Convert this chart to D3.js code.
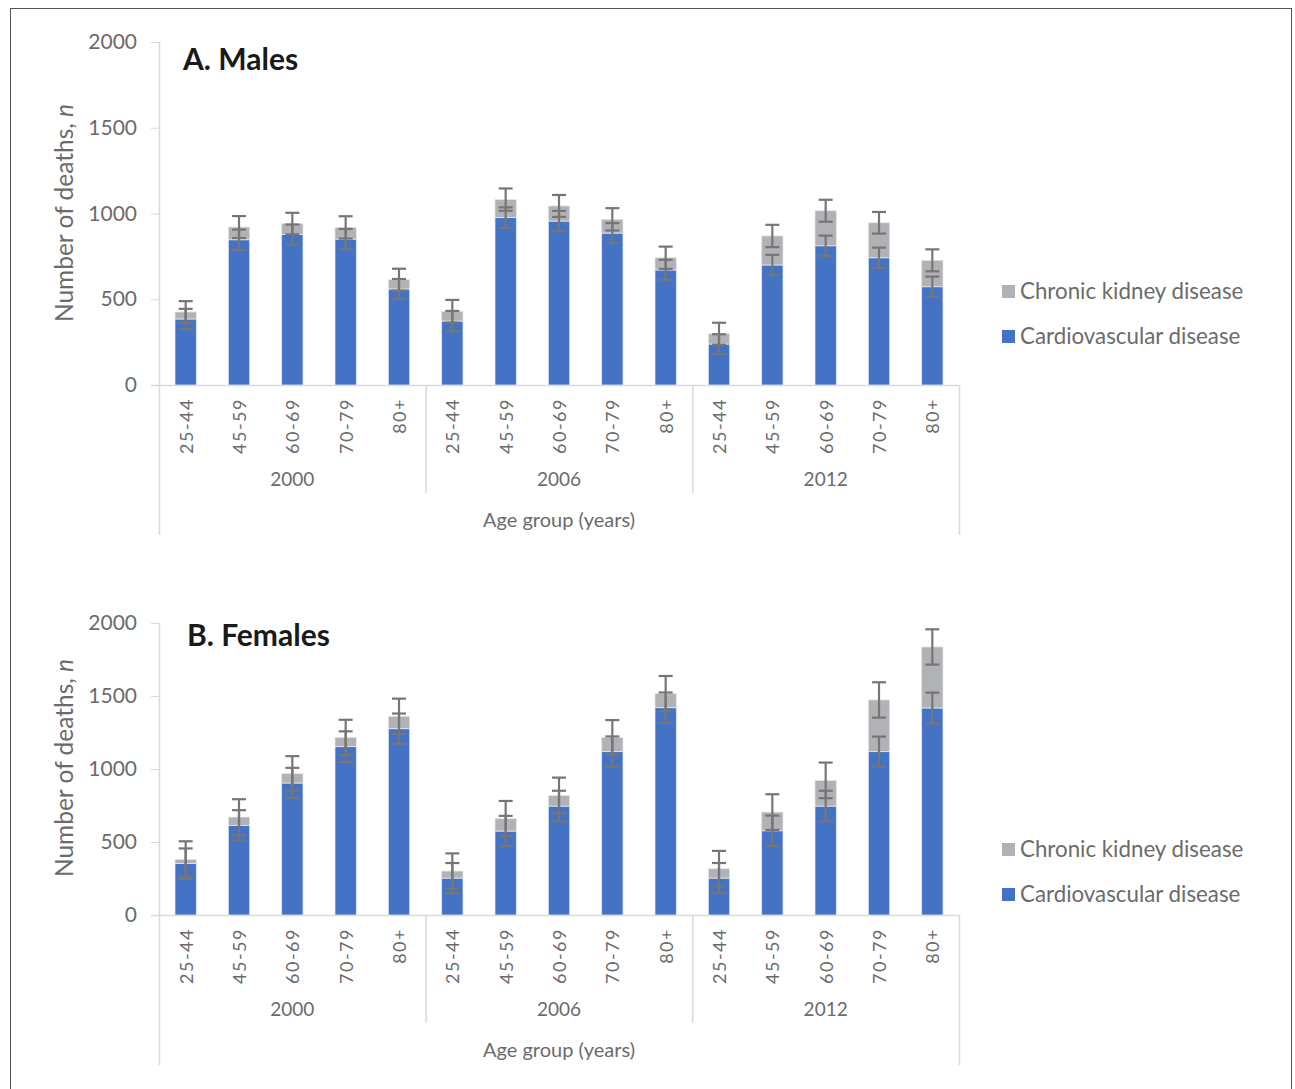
<!DOCTYPE html>
<html>
<head>
<meta charset="utf-8">
<script src="https://cdn.jsdelivr.net/npm/d3@7"></script>
<style>
  body { margin: 0; background: #fff; }
  svg text { font-family: Lato, "Open Sans", sans-serif; }
</style>
</head>
<body>
<svg id="chart" width="1295" height="1089"></svg>
<script>
// Data
const years = ['2000', '2006', '2012'];
const ageGroups = ['25-44', '45-59', '60-69', '70-79', '80+'];

// Males (15 bars: 2000, 2006, 2012 x age groups)
const maleCvd = [385, 847, 877, 851, 560, 373, 976, 956, 886, 671, 239, 700, 812, 742, 573];
const maleCkd = [41, 74, 64, 68, 54, 57, 105, 88, 80, 71, 60, 169, 204, 204, 154];
const maleCvdErr = [59, 59, 59, 59, 58, 59, 60, 59, 58, 59, 57, 59, 59, 59, 59];
const maleCkdErr = [63, 64, 63, 65, 64, 66, 65, 64, 65, 65, 64, 65, 64, 63, 64];

// Females
const femaleCvd = [352, 614, 904, 1153, 1276, 253, 575, 746, 1119, 1420, 253, 577, 746, 1119, 1418];
const femaleCkd = [29, 57, 64, 63, 85, 48, 85, 73, 96, 96, 64, 128, 176, 354, 418];
const femaleCvdErr = [104, 104, 104, 105, 104, 103, 104, 105, 104, 104, 103, 104, 105, 103, 105];
const femaleCkdErr = [124, 122, 120, 121, 121, 121, 121, 122, 120, 121, 122, 122, 122, 121, 121];

const yTicks = [0, 500, 1000, 1500, 2000];
const seriesNames = ['Chronic kidney disease', 'Cardiovascular disease'];

const blue = '#4472C4';
const grey = '#B1B2B5';
const errColor = '#767676';
const axisColor = '#D9D9D9';
const textColor = '#6B6B6B';

const svg = d3.select('#chart');

// outer frame
svg.append('rect')
    .attr('x', 10.5).attr('y', 8.5)
    .attr('width', 1281).attr('height', 1090)
    .attr('fill', 'none').attr('stroke', '#555').attr('stroke-width', 1);

function drawPanel(opts) {
    const left = 159, right = 959;
    const g = svg.append('g');

    const y = d3.scaleLinear().domain([0, 2000]).range([opts.bottom, opts.top]);
    const xYear = d3.scaleBand().domain(years).range([left, right]).padding(0);
    const xAge = d3.scaleBand().domain(ageGroups).range([0, xYear.bandwidth()])
        .paddingInner(0.6).paddingOuter(0.3);

    const bars = [];
    years.forEach((yr, i) => {
        ageGroups.forEach((ag, j) => {
            const k = i * ageGroups.length + j;
            bars.push({
                year: yr, age: ag,
                cvd: opts.cvd[k], ckd: opts.ckd[k],
                cvdErr: opts.cvdErr[k], ckdErr: opts.ckdErr[k],
                x: xYear(yr) + xAge(ag)
            });
        });
    });

    // y axis
    const yAxis = g.append('g')
        .attr('transform', `translate(${left},0)`)
        .call(d3.axisLeft(y).tickValues(yTicks).tickFormat(d3.format('d')).tickSize(8).tickPadding(14));
    yAxis.select('.domain').remove();
    yAxis.selectAll('line').attr('stroke', axisColor);
    yAxis.selectAll('text')
        .attr('fill', textColor)
        .style('font-size', '21px')
        .style('font-family', 'Lato, sans-serif');

    g.append('line')
        .attr('x1', left + 0.5).attr('x2', left + 0.5)
        .attr('y1', opts.top).attr('y2', opts.bottom + 150)
        .attr('stroke', axisColor).attr('stroke-width', 1.5);
    g.append('line')
        .attr('x1', right + 0.5).attr('x2', right + 0.5)
        .attr('y1', opts.bottom).attr('y2', opts.bottom + 150)
        .attr('stroke', axisColor).attr('stroke-width', 1.5);
    g.append('line')
        .attr('x1', left - 8).attr('x2', right)
        .attr('y1', opts.bottom + 0.5).attr('y2', opts.bottom + 0.5)
        .attr('stroke', axisColor).attr('stroke-width', 1.5);

    // year separators
    g.selectAll('.sep')
        .data(years.slice(1))
        .enter()
        .append('line')
        .attr('x1', d => xYear(d) + 0.5).attr('x2', d => xYear(d) + 0.5)
        .attr('y1', opts.bottom).attr('y2', opts.bottom + 108)
        .attr('stroke', axisColor).attr('stroke-width', 1.5);

    // stacked bars
    g.selectAll('.cvd')
        .data(bars)
        .enter()
        .append('rect')
        .attr('x', d => d.x)
        .attr('y', d => y(d.cvd))
        .attr('width', xAge.bandwidth())
        .attr('height', d => opts.bottom - y(d.cvd))
        .attr('fill', blue)
        .attr('stroke', '#dfe6f3').attr('stroke-width', 0.8);

    g.selectAll('.ckd')
        .data(bars)
        .enter()
        .append('rect')
        .attr('x', d => d.x)
        .attr('y', d => y(d.cvd + d.ckd))
        .attr('width', xAge.bandwidth())
        .attr('height', d => y(d.cvd) - y(d.cvd + d.ckd))
        .attr('fill', grey)
        .attr('stroke', '#e6e6e6').attr('stroke-width', 0.8);

    // error bars
    const errs = [];
    bars.forEach(d => {
        errs.push({ cx: d.x + xAge.bandwidth() / 2, v: d.cvd, e: d.cvdErr });
        errs.push({ cx: d.x + xAge.bandwidth() / 2, v: d.cvd + d.ckd, e: d.ckdErr });
    });
    const eg = g.append('g').attr('stroke', errColor).attr('stroke-width', 2.2);
    errs.forEach(d => {
        eg.append('line')
            .attr('x1', d.cx).attr('x2', d.cx)
            .attr('y1', y(d.v + d.e)).attr('y2', y(d.v - d.e));
        [d.v + d.e, d.v - d.e].forEach(v => {
            eg.append('line')
                .attr('x1', d.cx - 7).attr('x2', d.cx + 7)
                .attr('y1', y(v)).attr('y2', y(v));
        });
    });

    // rotated age labels
    g.selectAll('.agelab')
        .data(bars)
        .enter()
        .append('text')
        .attr('transform', d => `translate(${d.x + xAge.bandwidth() / 2 + 7},${opts.bottom + 13}) rotate(-90)`)
        .attr('text-anchor', 'end')
        .attr('fill', textColor)
        .style('font-size', '18px')
        .style('letter-spacing', '1.5px')
        .text(d => d.age);

    // year labels
    g.selectAll('.yearlab')
        .data(years)
        .enter()
        .append('text')
        .attr('x', d => xYear(d) + xYear.bandwidth() / 2)
        .attr('y', opts.bottom + 101)
        .attr('text-anchor', 'middle')
        .attr('fill', textColor)
        .style('font-size', '19px')
        .text(d => d);

    g.append('text')
        .attr('x', (left + right) / 2)
        .attr('y', opts.bottom + 142)
        .attr('text-anchor', 'middle')
        .attr('fill', textColor)
        .style('font-size', '20px')
        .text('Age group (years)');

    // y axis title
    const yt = g.append('text')
        .attr('transform', `translate(73,${opts.yTitleY}) rotate(-90)`)
        .attr('text-anchor', 'middle')
        .attr('fill', textColor)
        .style('font-size', '24.5px');
    yt.append('tspan').text('Number of deaths, ');
    yt.append('tspan').style('font-style', 'italic').text('n');

    // panel title
    g.append('text')
        .attr('x', opts.titleX).attr('y', opts.titleY)
        .attr('fill', '#1a1a1a')
        .style('font-size', '30px')
        .style('font-weight', 'bold')
        .text(opts.title);

    // legend
    const leg = g.append('g');
    const legColors = [grey, blue];
    seriesNames.forEach((name, i) => {
        const ly = opts.legendY + i * 45;
        leg.append('rect')
            .attr('x', 1002).attr('y', ly - 6)
            .attr('width', 13).attr('height', 13)
            .attr('fill', legColors[i]);
        leg.append('text')
            .attr('x', 1020).attr('y', ly + 7.5)
            .attr('fill', textColor)
            .style('font-size', '22.3px')
            .text(name);
    });
}

drawPanel({
    top: 42, bottom: 385,
    cvd: maleCvd, ckd: maleCkd, cvdErr: maleCvdErr, ckdErr: maleCkdErr,
    title: 'A. Males', titleX: 183, titleY: 70,
    yTitleY: 213, legendY: 291
});

drawPanel({
    top: 623, bottom: 915,
    cvd: femaleCvd, ckd: femaleCkd, cvdErr: femaleCvdErr, ckdErr: femaleCkdErr,
    title: 'B. Females', titleX: 187, titleY: 646,
    yTitleY: 768, legendY: 849
});
</script>
</body>
</html>
